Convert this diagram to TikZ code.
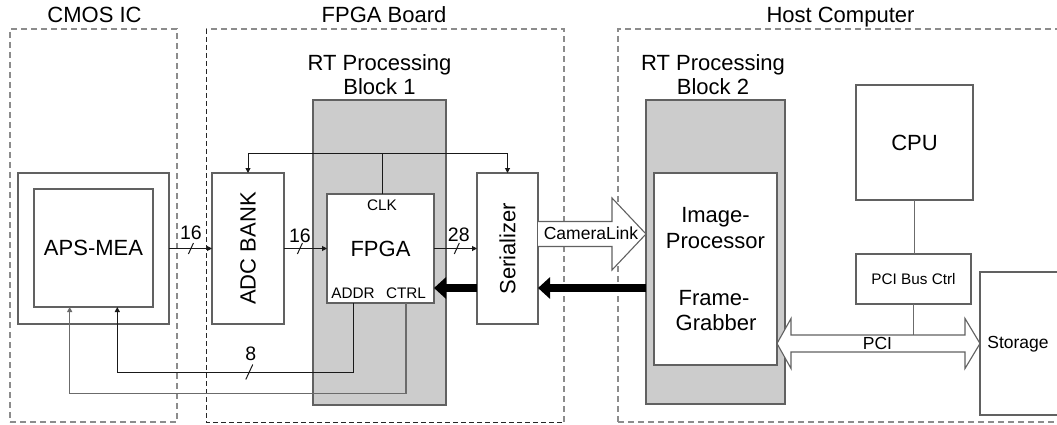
\documentclass[tikz,border=0pt]{standalone}
\usepackage{fontspec}
\setmainfont{Liberation Sans}
\usetikzlibrary{arrows.meta,calc}
\definecolor{edgegray}{gray}{0.38}
\definecolor{dashgray}{gray}{0.55}
\definecolor{blockgray}{gray}{0.8}
\definecolor{wiregray}{gray}{0.42}
\begin{document}
\begin{tikzpicture}[x=1pt,y=-1pt,
  every node/.style={inner sep=0pt,outer sep=0pt},
  regionbox/.style={draw=dashgray,line width=1.1pt,dash pattern=on 6pt off 4pt},
  boardedge/.style={draw=black!85,line width=0.9pt,dash pattern=on 5pt off 3pt},
  shadebox/.style={draw=edgegray,fill=blockgray,line width=1.1pt},
  unitbox/.style={draw=edgegray,fill=white,line width=1.1pt},
  wire/.style={draw=black!90,line width=1pt},
  wiretwo/.style={draw=wiregray,line width=1.2pt},
  arr/.style={-{Triangle[length=5pt,width=5pt]}},
  fat/.style={line width=8pt,-{Triangle[length=12pt,width=21pt]}},
  hollow/.style={draw=edgegray,fill=white,line width=1.1pt,line join=miter},
  fbig/.style={font=\fontsize{22}{26}\selectfont},
  fmid/.style={font=\fontsize{17.5}{20}\selectfont},
  fnum/.style={font=\fontsize{19.5}{22}\selectfont},
  fsmall/.style={font=\fontsize{15.3}{18}\selectfont},
]
\useasboundingbox (0,0) rectangle (1057,425);
\clip (0,0) rectangle (1057,425);

% ---------- enclosing regions ----------
\node[regionbox,minimum width=167,minimum height=393] (cmos) at (93.5,225.5) {};
\node[minimum width=358,minimum height=393] (board) at (385,225.5) {};
\draw[regionbox] (board.south east) -- (board.north east) -- (board.north west);
\draw[boardedge] (board.north west) -- (board.south west) -- (board.south east);
\node[regionbox,minimum width=460,minimum height=393] (host) at (848,225.5) {};

\node[fbig,anchor=base] (tcmos)  at (94.5,22.5)  {CMOS IC};
\node[fbig,anchor=base] (tboard) at (384,22.5)   {FPGA Board};
\node[fbig,anchor=base] (thost)  at (840.5,22.5) {Host Computer};

% ---------- real-time processing blocks ----------
\node[shadebox,minimum width=133,minimum height=305] (blk1) at (379.5,252.5) {};
\node[shadebox,minimum width=139,minimum height=304] (blk2) at (715.5,252) {};
\node[fbig,anchor=base] (rt1a) at (379.5,71) {RT Processing};
\node[fbig,anchor=base] (rt1b) at (379.5,95) {Block 1};
\node[fbig,anchor=base] (rt2a) at (713,71)   {RT Processing};
\node[fbig,anchor=base] (rt2b) at (713,95)   {Block 2};

% ---------- functional units ----------
\node[unitbox,minimum width=151,minimum height=151] (apsout) at (93.5,248.5) {};
\node[unitbox,fbig,minimum width=119,minimum height=118] (aps) at (93.5,248) {APS-MEA};
\node[unitbox,minimum width=72,minimum height=151] (adc) at (248,248.5) {};
\node[fbig,rotate=90] (adctext) at (adc) {ADC BANK};
\node[unitbox,fbig,minimum width=107,minimum height=109] (fpga) at (380.5,248.5) {FPGA};
\node[fsmall] (clk)  at (382,205) {CLK};
\node[fsmall] (addr) at (353,293) {ADDR};
\node[fsmall] (ctrl) at (406,293) {CTRL};
\node[unitbox,minimum width=61,minimum height=151] (ser) at (507.5,248.5) {};
\node[fbig,rotate=90] (sertext) at (ser) {Serializer};
\node[unitbox,minimum width=123,minimum height=192] (ipfg) at (715.5,269) {};
\node[fbig,anchor=base] (ip1) at (715.5,222) {Image-};
\node[fbig,anchor=base] (ip2) at (715.5,248) {Processor};
\node[fbig,anchor=base] (fg1) at (714,305)   {Frame-};
\node[fbig,anchor=base] (fg2) at (716,330)   {Grabber};
\node[unitbox,fbig,minimum width=117,minimum height=115] (cpu) at (914.5,142.5) {CPU};
\node[unitbox,fsmall,minimum width=115,minimum height=50] (pcibus) at (913.5,279) {PCI Bus Ctrl};
\node[unitbox,minimum width=100,minimum height=143] (storage) at (1030,343.5) {};
\node[fmid] (stortext) at (1018,344) {Storage};

% ---------- clock distribution ----------
\coordinate (clkrow) at (0,153);
\draw[wire] (fpga.north -| clk) -- (clk |- clkrow);
\draw[wire] (adc.north |- clkrow) -- (ser.north |- clkrow);
\draw[wire,arr] (adc.north |- clkrow) -- (adc.north);
\draw[wire,arr] (ser.north |- clkrow) -- (ser.north);

% ---------- data buses ----------
\draw[wire,arr] (apsout.east) -- coordinate[pos=0.51] (s1) (adc.west);
\draw[wire,arr] (adc.east) -- coordinate[pos=0.37] (s2) (fpga.west);
\draw[wire,arr] (fpga.east) -- coordinate[pos=0.53] (s3) (ser.west);
\foreach \s in {s1,s2,s3}
  \draw[wire] ($(\s)+(-2.5,5.5)$) -- ($(\s)+(2.5,-5.5)$);
\node[fnum] (n1) at ($(s1)+(0,-15.5)$) {16};
\node[fnum] (n2) at ($(s2)+(0,-13)$) {16};
\node[fnum] (n3) at ($(s3)+(2,-13.5)$) {28};

% ---------- address and control back to the sensor ----------
\coordinate (apsA) at ($(aps.south west)!0.7!(aps.south east)$);
\coordinate (apsC) at ($(aps.south west)!0.3!(aps.south east)$);
\coordinate (addrrow) at (0,372);
\coordinate (ctrlrow) at (0,393.5);
\draw[wire,arr] (fpga.south -| addr) |- (apsA |- addrrow) -- (apsA);
\draw[wiretwo,arr] (fpga.south -| ctrl) |- (apsC |- ctrlrow) -- (apsC);
\coordinate (s4) at ($(addr |- addrrow)!0.44!(apsA |- addrrow)$);
\draw[wire] ($(s4)+(-3.5,7.5)$) -- ($(s4)+(3.5,-7.5)$);
\node[fnum] (n4) at ($(s4)+(1.5,-18)$) {8};

% ---------- return paths (thick) ----------
\coordinate (fatrow) at (0,288);
\draw[fat] (blk2.west |- fatrow) -- (ser.east |- fatrow);
\draw[fat] (ser.west |- fatrow) -- (fpga.east |- fatrow);

% ---------- CameraLink ----------
\coordinate (clrow) at (0,234);
\coordinate (clback) at (ser.east |- clrow);
\coordinate (cltip) at (blk2.west |- clrow);
\draw[hollow] ($(clback)+(0,-12.5)$) -- ($(cltip)+(-34,-12.5)$) -- ($(cltip)+(-34,-36)$)
  -- (cltip) -- ($(cltip)+(-34,36)$) -- ($(cltip)+(-34,12.5)$) -- ($(clback)+(0,12.5)$);
\node[fmid] (cltext) at (591,233.5) {CameraLink};

% ---------- CPU and PCI bus ----------
\coordinate (pcirow) at (0,343.5);
\draw[wiretwo] (cpu.south) -- (cpu.south |- pcibus.north);
\draw[wiretwo] (pcibus.south) -- ($(pcibus.south |- pcirow)+(0,-8.5)$);
\coordinate (pL) at (ipfg.east |- pcirow);
\coordinate (pR) at (storage.west |- pcirow);
\draw[hollow] (pL) -- ($(pL)+(14,-25)$) -- ($(pL)+(14,-8.5)$) -- ($(pR)+(-15,-8.5)$)
  -- ($(pR)+(-15,-25)$) -- (pR) -- ($(pR)+(-15,25)$) -- ($(pR)+(-15,8.5)$)
  -- ($(pL)+(14,8.5)$) -- ($(pL)+(14,25)$) -- cycle;
\node[fmid] (pcitext) at (877.5,343) {PCI};
\end{tikzpicture}
\end{document}
